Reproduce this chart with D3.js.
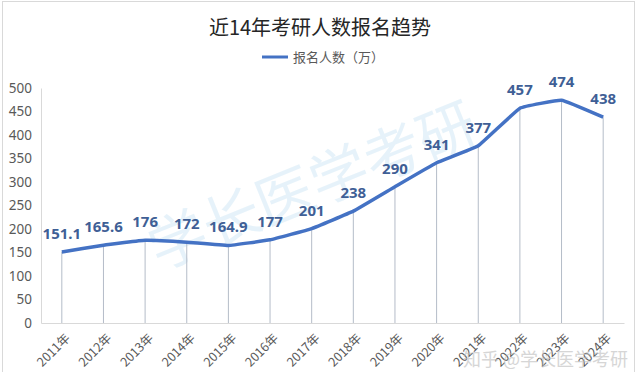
<!DOCTYPE html>
<html>
<head>
<meta charset="utf-8">
<script src="https://cdn.jsdelivr.net/npm/d3@7"></script>
<style>
  body { margin: 0; background: #fff; }
  svg { display: block; font-family: "Noto Sans CJK SC", "Noto Sans", sans-serif; }
</style>
</head>
<body>
<svg width="640" height="372"></svg>
<script>
const years = ['2011年', '2012年', '2013年', '2014年', '2015年', '2016年', '2017年',
    '2018年', '2019年', '2020年', '2021年', '2022年', '2023年', '2024年'];
const applicants = [151.1, 165.6, 176, 172, 164.9, 177, 201, 238, 290, 341, 377, 457, 474, 438];
const yTicks = [0, 50, 100, 150, 200, 250, 300, 350, 400, 450, 500];

const svg = d3.select('svg');
const width = 640, height = 372;
const margin = { top: 88, right: 16, bottom: 49, left: 41 };

// outer frame
svg.append('rect')
    .attr('x', 2.5).attr('y', 1.5)
    .attr('width', 632).attr('height', 380)
    .attr('fill', 'none').attr('stroke', '#d9d9d9');

const x = d3.scaleBand()
    .domain(years)
    .range([margin.left, width - margin.right]);

const y = d3.scaleLinear()
    .domain([0, 500])
    .range([height - margin.bottom, margin.top]);

const cx = d => x(d) + x.bandwidth() / 2;

// title + legend
svg.append('text')
    .attr('x', 320).attr('y', 35)
    .attr('text-anchor', 'middle')
    .attr('font-size', 20)
    .attr('fill', '#262626')
    .text('近14年考研人数报名趋势');

svg.append('line')
    .attr('x1', 262).attr('x2', 288)
    .attr('y1', 57).attr('y2', 57)
    .attr('stroke', '#4472c4').attr('stroke-width', 3);
svg.append('text')
    .attr('x', 293).attr('y', 62)
    .attr('font-size', 13)
    .attr('fill', '#595959')
    .text('报名人数（万）');

// watermark
svg.append('text')
    .attr('transform', 'translate(320,205) rotate(-22)')
    .attr('text-anchor', 'middle')
    .attr('font-size', 58)
    .attr('fill', '#a9d4ee')
    .attr('opacity', 0.28)
    .text('学长医学考研');

// y axis
const yAxis = svg.append('g')
    .attr('transform', `translate(${margin.left},0)`)
    .call(d3.axisLeft(y).tickValues(yTicks).tickSize(0).tickPadding(9));
yAxis.select('.domain').attr('stroke', '#d9d9d9');
yAxis.selectAll('text')
    .attr('font-size', 13.5)
    .attr('fill', '#595959')
    .attr('font-family', '"Noto Sans", sans-serif');

// x axis
const xAxis = svg.append('g')
    .attr('transform', `translate(0,${height - margin.bottom})`)
    .call(d3.axisBottom(x).tickSize(0).tickPadding(0));
xAxis.select('.domain').attr('stroke', '#d9d9d9');
xAxis.selectAll('text')
    .attr('font-size', 12.5)
    .attr('fill', '#595959')
    .attr('font-family', '"Noto Sans CJK SC", sans-serif')
    .attr('text-anchor', 'end')
    .attr('y', 0)
    .attr('dy', 0)
    .attr('transform', 'translate(9,16) rotate(-45)');

// drop lines
svg.append('g').selectAll('line')
    .data(applicants)
    .join('line')
    .attr('x1', (d, i) => cx(years[i]))
    .attr('x2', (d, i) => cx(years[i]))
    .attr('y1', d => y(d))
    .attr('y2', y(0))
    .attr('stroke', '#b4bcc8')
    .attr('stroke-width', 1);

// the line
const line = d3.line()
    .x((d, i) => cx(years[i]))
    .y(d => y(d))
    .curve(d3.curveCardinal.tension(0.75));

svg.append('path')
    .datum(applicants)
    .attr('d', line)
    .attr('fill', 'none')
    .attr('stroke', '#4472c4')
    .attr('stroke-width', 3.5)
    .attr('stroke-linejoin', 'round');

// data labels
svg.append('g').selectAll('text')
    .data(applicants)
    .join('text')
    .attr('x', (d, i) => cx(years[i]))
    .attr('y', d => y(d) - 13)
    .attr('text-anchor', 'middle')
    .attr('font-size', 15)
    .attr('font-weight', 'bold')
    .attr('fill', '#3f5f96')
    .attr('font-family', '"Noto Sans", sans-serif')
    .text(d => d);

// bottom watermark
svg.append('text')
    .attr('x', 628).attr('y', 366)
    .attr('text-anchor', 'end')
    .attr('font-size', 18)
    .attr('fill', '#bbbbbb')
    .attr('opacity', 0.6)
    .text('知乎 @学长医学考研');
</script>
</body>
</html>
